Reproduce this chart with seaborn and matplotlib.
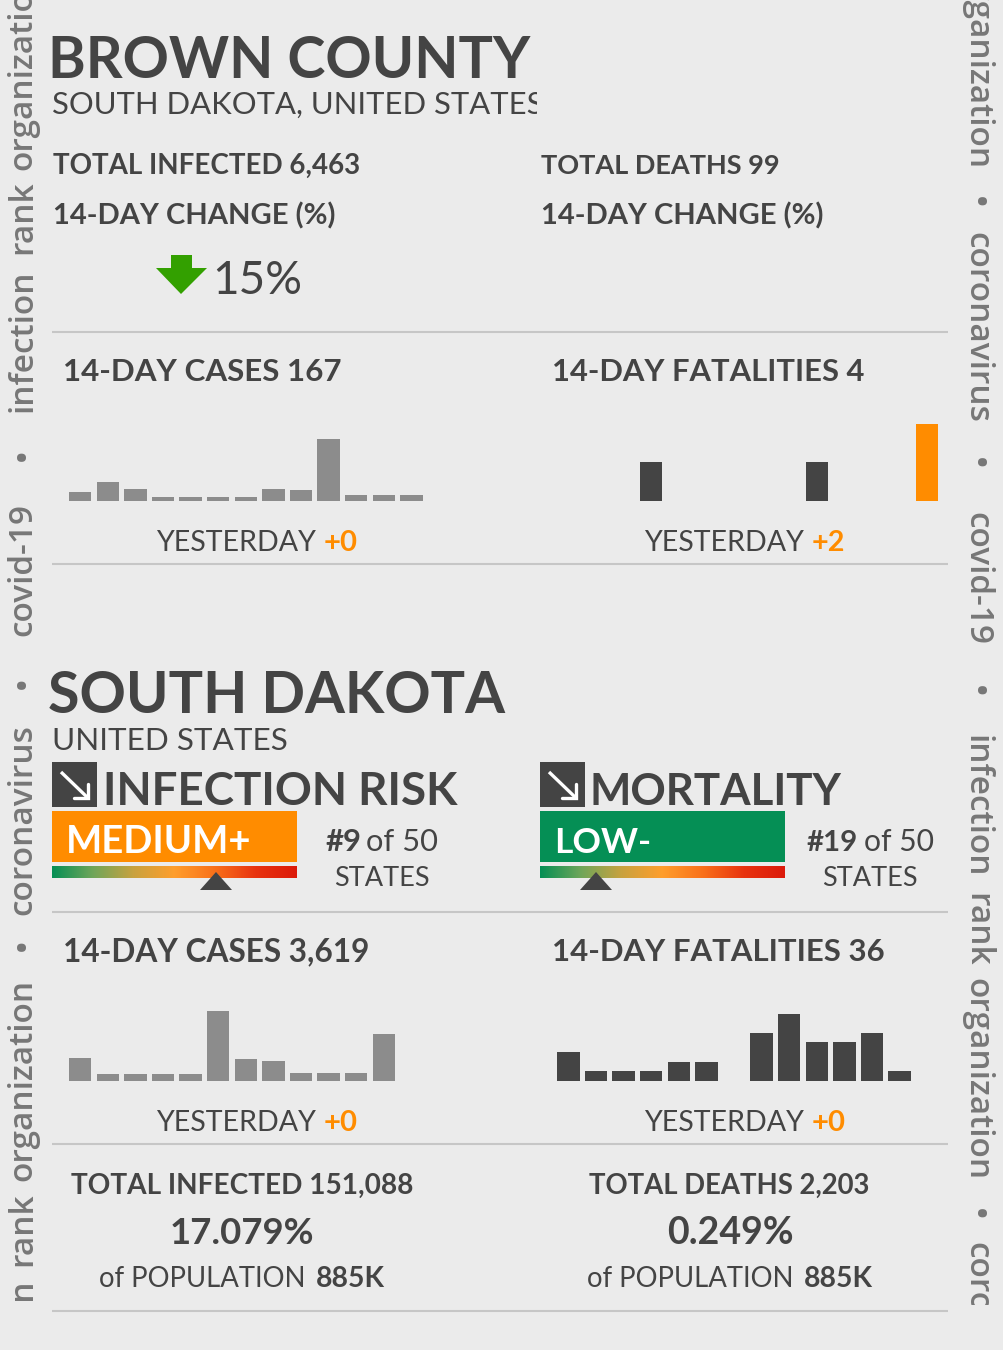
import numpy as np
import pandas as pd
import matplotlib
matplotlib.use("Agg")
import matplotlib.pyplot as plt
from matplotlib.colors import LinearSegmentedColormap
from matplotlib.patches import Rectangle, Polygon
import seaborn as sns

# values
days = list(range(14))
county_cases = [9, 19, 12, 4, 4, 4, 4, 12, 11, 62, 6, 6, 6, 0]
county_deaths = [0, 0, 0, 1, 0, 0, 0, 0, 0, 1, 0, 0, 0, 2]
state_cases = [350, 105, 105, 105, 105, 1095, 340, 315, 120, 120, 120, 740, 0, 0]
state_deaths = [3, 1, 1, 1, 2, 2, 0, 5, 7, 4, 4, 5, 1, 0]

BG = "#EBEBEB"
DARK = "#444444"
GREY_BAR = "#8C8C8C"
ORANGE = "#FF8C00"
GREEN = "#058F55"
RULE = "#C6C6C6"
W, H = 1004, 1350
FONT = "Lato"

sns.set_theme(style="white", rc={"figure.facecolor": BG, "axes.facecolor": "none"})
plt.rcParams["font.family"] = [FONT, "DejaVu Sans"]

fig = plt.figure(figsize=(W / 100, H / 100), dpi=100, facecolor=BG)
bg = fig.add_axes([0, 0, 1, 1])
bg.set_xlim(0, W)
bg.set_ylim(H, 0)
bg.axis("off")
renderer = fig.canvas.get_renderer()


def put(x0, x1, y, s, weight="normal", color=DARK, start=20):
    """Text from x0 to x1 on baseline y, size fitted to that width."""
    t = bg.text(x0, y, s, fontweight=weight, color=color, fontsize=start, va="baseline", ha="left")
    w = t.get_window_extent(renderer).width
    t.set_fontsize(start * (x1 - x0) / w)
    return t


def head(x0, x1, y, s, color=DARK):
    return put(x0, x1, y, s, weight="bold", color=color)


def bars(x0, base, values, top_px, colors):
    """14 day bars, slot pitch 27.6 px, biggest bar top_px high above the baseline."""
    pitch = 27.6
    left = x0 + 11.15 - pitch / 2
    height = 100
    ax = fig.add_axes([left / W, 1 - base / H, pitch * 14 / W, height / H])
    df = pd.DataFrame({"day": days, "value": values})
    sns.barplot(data=df, x="day", y="value", hue="day", palette=colors, width=22.3 / pitch,
                legend=False, saturation=1, linewidth=0, ax=ax)
    ax.set_xlim(-0.5, 13.5)
    ax.set_ylim(0, max(values) * height / top_px)
    ax.axis("off")


def rule(y):
    bg.plot([52, 948], [y, y], color=RULE, lw=1.5, solid_capstyle="butt")


def risk_box(x, label, label_x1, color, marker_x):
    bg.add_patch(Rectangle((x, 811), 245, 51, color=color, lw=0))
    head(x + 14, label_x1, 853, label, color="white")
    cmap = LinearSegmentedColormap.from_list(
        "risk", [GREEN, "#6FA65A", "#C9A23F", "#FF9E2C", "#F9701A", "#E8330F", "#DC1A0A"])
    bg.imshow(np.linspace(0, 1, 256)[None, :], cmap=cmap, aspect="auto",
              extent=(x, x + 245, 878, 866), zorder=2)
    bg.add_patch(Polygon([(marker_x - 16, 890), (marker_x + 16, 890), (marker_x, 872)],
                         color=DARK, lw=0, zorder=3))
    # trend badge
    bg.add_patch(Rectangle((x, 762), 45, 45, color=DARK, lw=0))
    ax0, ay0 = x + 9, 772
    ax1, ay1 = x + 36, 798
    bg.plot([ax0, ax1], [ay0, ay1], color="white", lw=2.4, solid_capstyle="butt", zorder=4)
    bg.plot([ax1 - 14, ax1, ax1], [ay1, ay1, ay1 - 14], color="white", lw=2.4,
            solid_joinstyle="miter", zorder=4)


def yesterday(x, y, plus, plus_x1):
    put(x, x + 160, y, "YESTERDAY")
    put(x + 168, plus_x1, y, plus, weight="bold", color=ORANGE)


# county block
head(48, 530, 78, "BROWN COUNTY")
sub = put(52, 541, 114, "SOUTH DAKOTA, UNITED STATES")
sub.set_clip_on(True)
sub.set_clip_path(Rectangle((0, 0), 537, H, transform=bg.transData))
head(53, 360, 174, "TOTAL INFECTED 6,463")
head(53, 336, 224, "14-DAY CHANGE (%)")
head(541, 780, 174, "TOTAL DEATHS 99")
head(541, 824, 224, "14-DAY CHANGE (%)")
bg.add_patch(Polygon([(171, 255), (192, 255), (192, 268), (207, 268), (181, 294), (156, 268), (171, 268)],
                     color="#33A000", lw=0))
put(212, 302, 294, "15%")
rule(332)
head(63, 342, 381, "14-DAY CASES 167")
head(552, 865, 381, "14-DAY FATALITIES 4")
bars(69, 500.7, county_cases, 62, [GREY_BAR] * 14)
bars(557.3, 500.7, county_deaths, 76.7, [DARK] * 13 + [ORANGE])
yesterday(156, 551, "+0", 358)
yesterday(644, 551, "+2", 845)
rule(564)

# state block
head(48, 505, 713, "SOUTH DAKOTA")
put(52, 287, 750, "UNITED STATES")
head(103, 458, 805, "INFECTION RISK")
head(590, 842, 805, "MORTALITY")
risk_box(52, "MEDIUM+", 251, ORANGE, 216)
risk_box(540, "LOW-", 651, GREEN, 596)
put(326, 362, 851, "#9", weight="bold")
put(366, 438, 851, "of 50")
put(334, 429, 886, "STATES")
put(807, 858, 851, "#19", weight="bold")
put(864, 934, 851, "of 50")
put(822, 917, 886, "STATES")
rule(912)
head(63, 370, 961, "14-DAY CASES 3,619")
head(552, 884, 961, "14-DAY FATALITIES 36")
bars(69, 1080.7, state_cases, 69.7, [GREY_BAR] * 14)
bars(557.3, 1080.7, state_deaths, 67, [DARK] * 14)
yesterday(156, 1131, "+0", 358)
yesterday(644, 1131, "+0", 846)
rule(1144)
head(71, 413, 1194, "TOTAL INFECTED 151,088")
head(589, 870, 1194, "TOTAL DEATHS 2,203")
head(170, 315, 1244, "17.079%")
head(667, 794, 1244, "0.249%")
put(99, 306, 1287, "of POPULATION")
put(316, 385, 1287, "885K", weight="bold")
put(587, 794, 1287, "of POPULATION")
put(804, 873, 1287, "885K", weight="bold")
rule(1311)

# watermark strips down both sides
clip = Rectangle((0, 0), W, 1305, transform=bg.transData)
left_words = [("covid-19", 569), ("•", 455), ("infection", 341), ("rank", 217), ("organization", 69),
              ("coronavirus", 820), ("•", 683), ("•", 945), ("organization", 1080), ("rank", 1229), ("in", 1294)]
right_words = [("organization", 68), ("•", 202), ("coronavirus", 327), ("•", 463), ("covid-19", 578),
               ("•", 691), ("infection", 806), ("rank", 930), ("organization", 1079), ("•", 1214), ("coronavirus", 1337)]
for words, x, angle in [(left_words, 31.5, 90), (right_words, 968, -90)]:
    for word, y in words:
        t = bg.text(x, y, word, rotation=angle, rotation_mode="anchor", ha="center", va="baseline",
                    fontsize=24, color="#777777", family="Open Sans", fontweight="semibold")
        t.set_clip_on(True)
        t.set_clip_path(clip)

bg.set_xlim(0, W)
bg.set_ylim(H, 0)
fig.savefig("out.png", dpi=100, facecolor=BG)
